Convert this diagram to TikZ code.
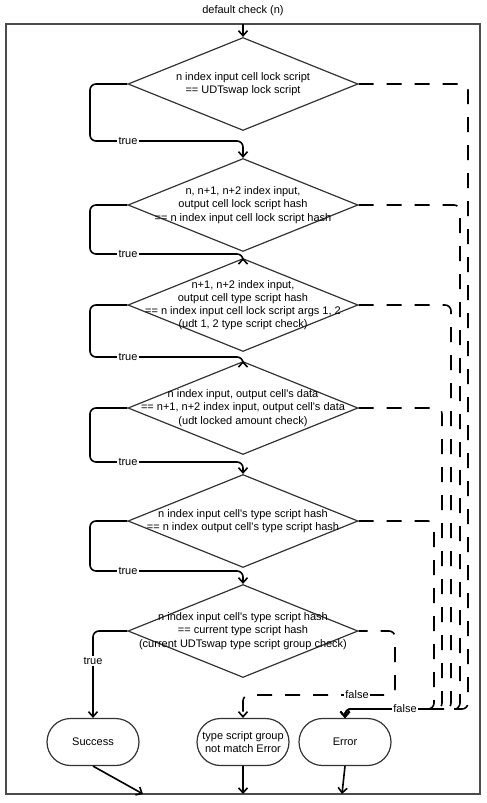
\documentclass[tikz,border=0pt]{standalone}
\usepackage{fontspec}
\setmainfont{Liberation Sans}
\usetikzlibrary{shapes.geometric,shapes.misc,arrows.meta}

\begin{document}
\begin{tikzpicture}[x=1pt,y=-1pt,
  font=\fontsize{11}{13.2}\selectfont,
  decision/.style={draw=black!80,line width=1.2pt,diamond,minimum width=230pt,minimum height=93pt,inner sep=0pt},
  dtext/.style={align=center,inner sep=0pt},
  terminal/.style={draw=black!80,line width=1.2pt,rounded rectangle,minimum width=94pt,minimum height=47pt,align=center,inner sep=1pt},
  flow/.style={black,line width=1.6pt,rounded corners=6pt,-{Straight Barb[length=5pt,width=9pt]}},
  fail/.style={flow,dash pattern=on 15pt off 13pt},
  tlabel/.style={fill=white,inner sep=1.5pt}]

\useasboundingbox (0,0) rectangle (487,803);
\draw[black!70,line width=1.5pt] (6,24) rectangle (480,794);
\node (title) at (243,11) {default check (n)};
\coordinate (entry) at (243,24);

\node[decision] (d1) at (243,84) {};
\node[dtext] (t1) at (d1) {n index input cell lock script\\== UDTswap lock script};
\node[decision] (d2) at (243,205) {};
\node[dtext] (t2) at (d2) {n, n+1, n+2 index input,\\output cell lock script hash\\== n index input cell lock script hash};
\node[decision] (d3) at (243,305) {};
\node[dtext] (t3) at (d3) {n+1, n+2 index input,\\output cell type script hash\\== n index input cell lock script args 1, 2\\(udt 1, 2 type script check)};
\node[decision] (d4) at (243,408) {};
\node[dtext] (t4) at (d4) {n index input, output cell\textquotesingle s data\\== n+1, n+2 index input, output cell\textquotesingle s data\\(udt locked amount check)};
\node[decision] (d5) at (243,521) {};
\node[dtext] (t5) at (d5) {n index input cell\textquotesingle s type script hash\\== n index output cell\textquotesingle s type script hash};
\node[decision] (d6) at (243,631) {};
\node[dtext] (t6) at (d6) {n index input cell\textquotesingle s type script hash\\== current type script hash\\(current UDTswap type script group check)};

\node[terminal] (ok) at (93,742) {Success};
\node[terminal] (grp) at (243,742) {type script group\\not match Error};
\node[terminal] (err) at (345,742) {Error};

\coordinate (out1) at (143,794);
\coordinate (out2) at (243,794);
\coordinate (out3) at (342,794);

\draw[flow] (entry) -- (d1.north);
\draw[flow] (d1.west) -| (90,141) -| (d2.north);
\draw[flow] (d2.west) -| (90,254) -| (d3.north);
\draw[flow] (d3.west) -| (90,357) -| (d4.north);
\draw[flow] (d4.west) -| (90,462) -| (d5.north);
\draw[flow] (d5.west) -| (90,571) -| (d6.north);
\draw[flow] (d6.west) -| (ok.north);

\draw[fail] (d1.east) -| (468,709) -| (err.north);
\draw[fail] (d2.east) -| (460,709) -| (err.north);
\draw[fail] (d3.east) -| (451,709) -| (err.north);
\draw[fail] (d4.east) -| (442,709) -| (err.north);
\draw[fail] (d5.east) -| (434,709) -| (err.north);
\draw[fail,dash phase=6pt] (d6.east) -| (395,695) -| (grp.north);

\node[tlabel] (l1) at (128,141) {true};
\node[tlabel] (l2) at (128,254) {true};
\node[tlabel] (l3) at (128,357) {true};
\node[tlabel] (l4) at (128,462) {true};
\node[tlabel] (l5) at (128,571) {true};
\node[tlabel] (l6) at (93,661) {true};
\node[tlabel] (l7) at (357,695) {false};
\node[tlabel] (l8) at (405,709) {false};

\draw[flow] (ok.south) -- (out1);
\draw[flow] (grp.south) -- (out2);
\draw[flow] (err.south) -- (out3);
\end{tikzpicture}
\end{document}
